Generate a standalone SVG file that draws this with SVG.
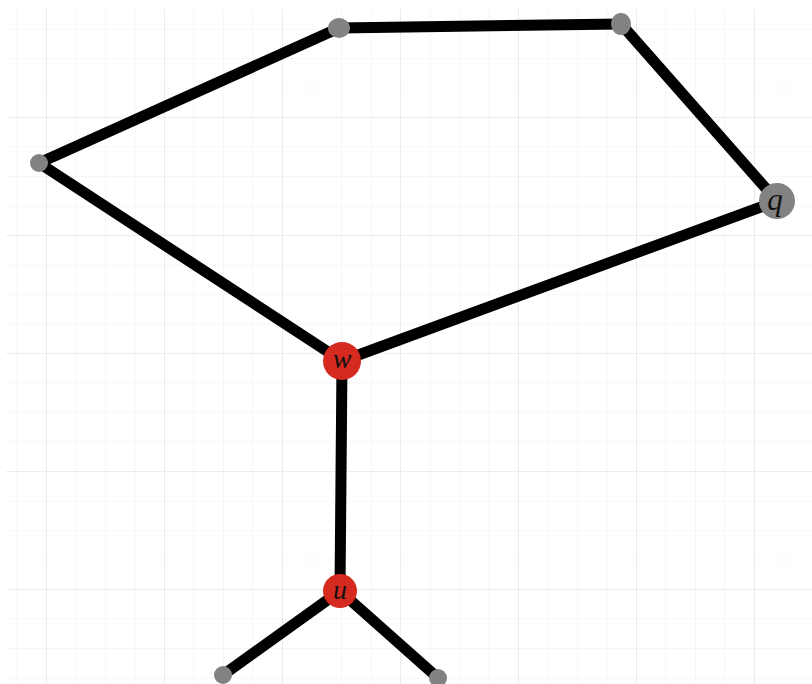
<svg xmlns="http://www.w3.org/2000/svg" width="812" height="684" viewBox="0 0 812 684">
<defs>
<pattern id="minor" x="16.5" y="28.5" width="29.5" height="29.5" patternUnits="userSpaceOnUse">
<path d="M0 0V29.5M0 0H29.5" fill="none" stroke="#f0f0f0" stroke-width="1"/>
</pattern>
<pattern id="major" x="46" y="117" width="118" height="118" patternUnits="userSpaceOnUse">
<path d="M0 0V118M0 0H118" fill="none" stroke="#e3e3e3" stroke-width="1.2"/>
</pattern>
</defs>
<style>
.edge{stroke:#000;stroke-width:11;stroke-linecap:round;fill:none}
.gray{fill:#828282}
.red{fill:#d42a1f}
.lbl{font-family:"Liberation Serif","DejaVu Serif",serif;font-style:italic;fill:#111;text-anchor:middle}
</style>
<rect width="812" height="684" fill="#fff"/>
<rect x="6" y="9" width="806" height="675" fill="url(#minor)"/>
<rect x="6" y="9" width="806" height="675" fill="url(#major)"/>
<g id="connectors">
<line class="edge" x1="339" y1="28" x2="621" y2="24"/>
<line class="edge" x1="339" y1="28" x2="39" y2="163"/>
<line class="edge" x1="621" y1="24" x2="777" y2="201"/>
<line class="edge" x1="39" y1="163" x2="342" y2="361"/>
<line class="edge" x1="777" y1="201" x2="342" y2="361"/>
<line class="edge" x1="342" y1="361" x2="340" y2="591"/>
<line class="edge" x1="340" y1="591" x2="223" y2="675"/>
<line class="edge" x1="340" y1="591" x2="438" y2="678"/>
</g>
<g id="n_top_left"><ellipse class="gray" cx="339" cy="28" rx="11" ry="10"/></g>
<g id="n_top_right"><ellipse class="gray" cx="621" cy="24" rx="10" ry="11"/></g>
<g id="n_left"><circle class="gray" cx="39" cy="163" r="9"/></g>
<g id="n_q"><circle class="gray" cx="777" cy="201" r="18"/><text class="lbl" x="775" y="210" font-size="31">q</text></g>
<g id="n_w"><circle class="red" cx="342" cy="361" r="19"/><text class="lbl" x="342" y="368" font-size="28">w</text></g>
<g id="n_u"><circle class="red" cx="340" cy="591" r="17"/><text class="lbl" x="340" y="599" font-size="28">u</text></g>
<g id="n_bottom_left"><circle class="gray" cx="223" cy="675" r="9"/></g>
<g id="n_bottom_right"><circle class="gray" cx="438" cy="678" r="9"/></g>
</svg>
